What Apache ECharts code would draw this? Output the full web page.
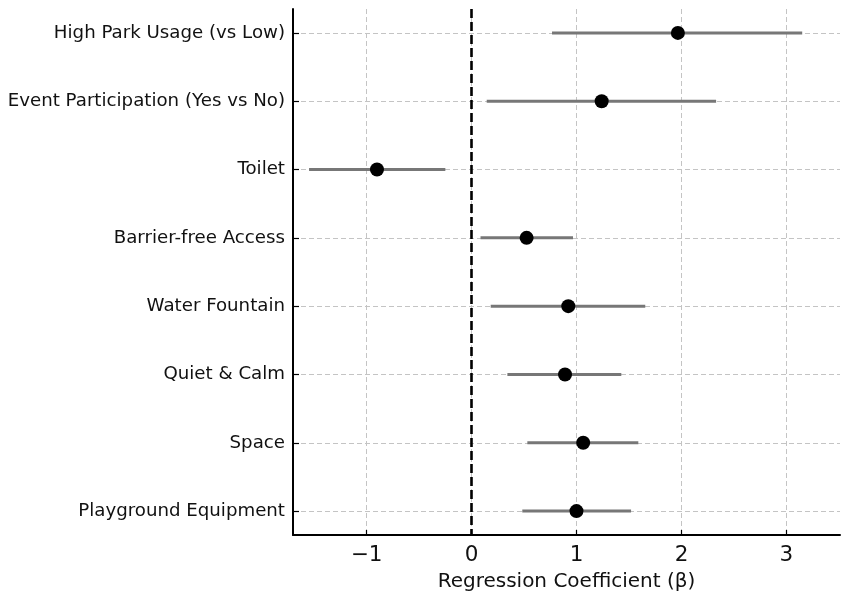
<!DOCTYPE html>
<html><head><meta charset="utf-8">
<script src="https://cdn.jsdelivr.net/npm/echarts@6/dist/echarts.min.js"></script>
<style>html,body{margin:0;padding:0;background:#fff}#c{width:851px;height:603px}</style>
</head><body><div id="c"></div>
<script>
const categories = ["High Park Usage (vs Low)","Event Participation (Yes vs No)","Toilet","Barrier-free Access","Water Fountain","Quiet & Calm","Space","Playground Equipment"];
const coef = [1.966, 1.24, -0.90, 0.525, 0.922, 0.891, 1.064, 1.00];
const ciLow = [0.767, 0.145, -1.547, 0.086, 0.183, 0.342, 0.532, 0.484];
const ciHigh = [3.15, 2.33, -0.249, 0.967, 1.655, 1.427, 1.589, 1.52];
const xTicks = [-1, 0, 1, 2, 3];
const yIdx = categories.map((_, i) => i);

const chart = echarts.init(document.getElementById('c'));
const font = 'DejaVu Sans';
chart.setOption({
  animation: false,
  grid: {left: 293, right: 11, top: 9, bottom: 68, containLabel: false},
  xAxis: {
    type: 'value', min: -1.7, max: 3.51,
    axisLine: {show: true, onZero: false, lineStyle: {color: '#000', width: 2}},
    axisTick: {show: true, inside: true, length: 5, customValues: xTicks, lineStyle: {color: '#000', width: 1.2}},
    axisLabel: {customValues: xTicks, fontFamily: font, fontSize: 21.5, color: '#111', margin: 9,
      formatter: v => (v < 0 ? '\u2212' + Math.abs(v) : String(v))},
    splitLine: {show: true, lineStyle: {color: '#c4c4c4', type: [5, 3], width: 1}},
    name: 'Regression Coefficient (\u03b2)', nameLocation: 'middle', nameGap: 37,
    nameTextStyle: {fontFamily: font, fontSize: 20, color: '#111'}
  },
  yAxis: {
    type: 'value', min: -0.35, max: 7.35, inverse: true,
    axisLine: {show: true, onZero: false, lineStyle: {color: '#000', width: 2}},
    axisTick: {show: true, inside: true, length: 6, customValues: yIdx, lineStyle: {color: '#000', width: 1.2}},
    axisLabel: {customValues: yIdx, fontFamily: font, fontSize: 18.2, color: '#111', margin: 8,
      formatter: v => categories[Math.round(v)] || ''},
    splitLine: {show: true, lineStyle: {color: '#c4c4c4', type: [5, 3], width: 1}}
  },
  series: [
    {
      type: 'custom',
      data: yIdx.map(i => [ciLow[i], ciHigh[i], i]),
      encode: {x: [0, 1], y: 2},
      renderItem: (params, api) => {
        const a = api.coord([api.value(0), api.value(2)]);
        const b = api.coord([api.value(1), api.value(2)]);
        return {type: 'line', shape: {x1: a[0], y1: a[1], x2: b[0], y2: b[1]},
          style: {stroke: '#777777', lineWidth: 3}};
      },
      z: 2
    },
    {
      type: 'scatter',
      data: yIdx.map(i => [coef[i], i]),
      symbol: 'circle', symbolSize: 14,
      itemStyle: {color: '#000', opacity: 1},
      z: 4,
      markLine: {
        silent: true, symbol: 'none', label: {show: false},
        lineStyle: {color: '#000', type: [9, 4], width: 2.6},
        data: [{xAxis: 0}]
      }
    }
  ]
});
</script></body></html>
